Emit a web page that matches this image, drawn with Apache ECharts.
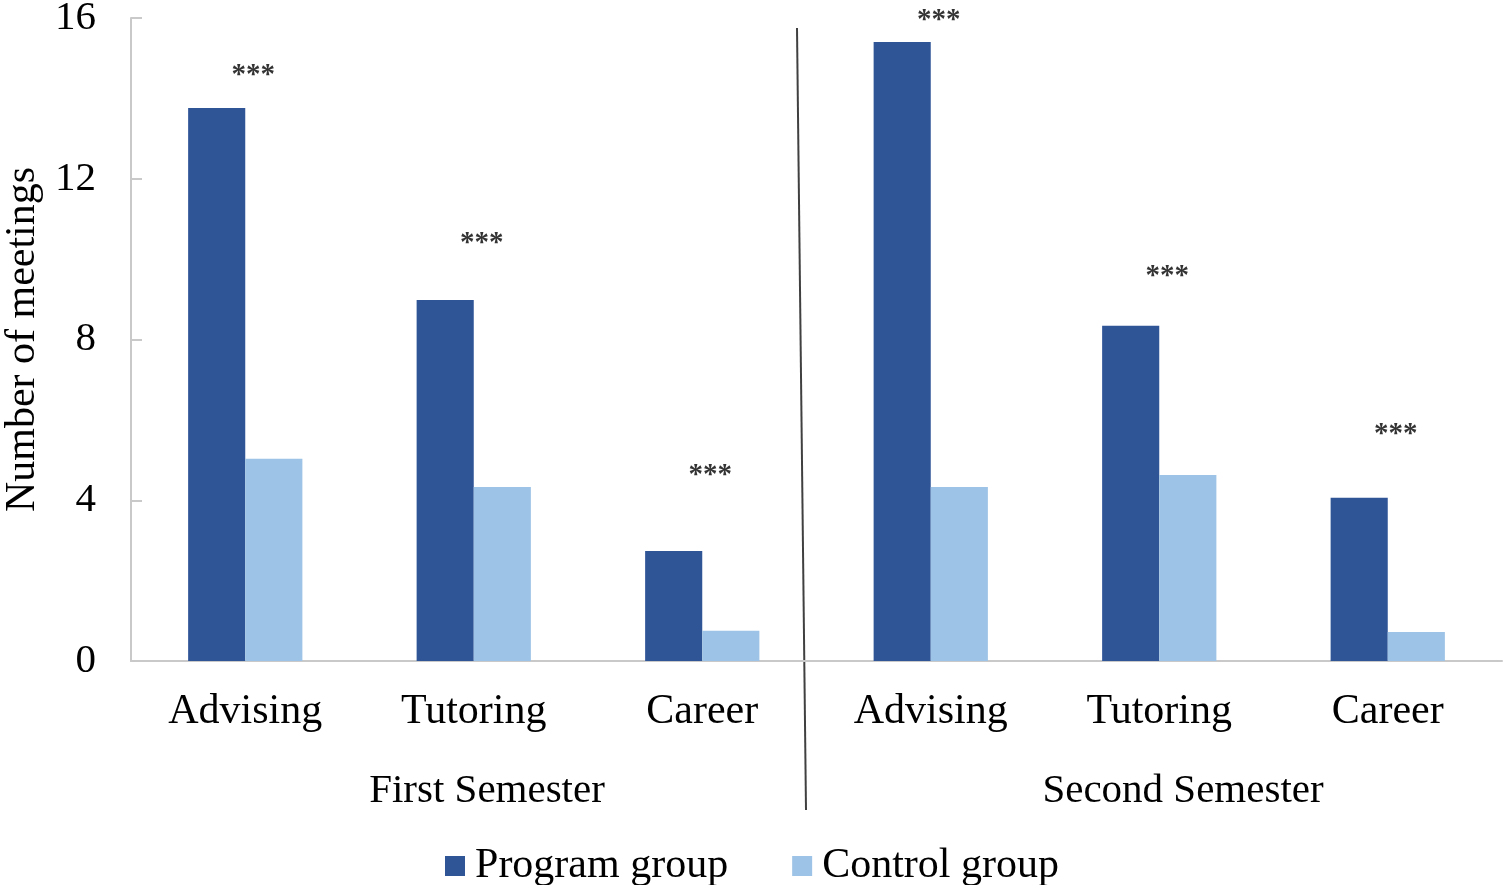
<!DOCTYPE html>
<html>
<head>
<meta charset="utf-8">
<script src="https://cdn.jsdelivr.net/npm/echarts@6/dist/echarts.min.js"></script>
<style>
  html, body { margin: 0; padding: 0; background: #fff; }
  #chart { width: 1504px; height: 885px; }
</style>
</head>
<body>
<div id="chart"></div>
<script>
// categories along x (two semesters, three services each)
const categories = ['Advising', 'Tutoring', 'Career', 'Advising', 'Tutoring', 'Career'];
const semesters = ['First Semester', 'Second Semester'];

// number of meetings
const programGroup = [13.76, 8.98, 2.74, 15.40, 8.34, 4.06];
const controlGroup = [5.03, 4.33, 0.75, 4.33, 4.63, 0.72];

// height where the significance stars sit
const starLevel = [14.65, 10.47, 4.70, 16.0, 9.63, 5.70];
const starText = '***';

const yTicks = [0, 4, 8, 12, 16];

const font = '"Liberation Serif", "Times New Roman", serif';

const chart = echarts.init(document.getElementById('chart'));

const option = {
  animation: false,
  textStyle: { fontFamily: font, color: '#000' },
  grid: { left: 131, right: 2, top: 18, bottom: 224, outerBoundsMode: 'none' },
  legend: {
    data: ['Program group', 'Control group'],
    left: 'center',
    top: 840,
    icon: 'rect',
    itemWidth: 20,
    itemHeight: 20,
    itemGap: 64,
    textStyle: { fontFamily: font, fontSize: 42, color: '#000', padding: [0, 0, 0, 5] }
  },
  xAxis: {
    type: 'category',
    data: categories,
    axisLine: { lineStyle: { color: '#c9c9c9', width: 2 } },
    axisTick: { show: false },
    axisLabel: { fontFamily: font, fontSize: 42, color: '#000', margin: 30, interval: 0 }
  },
  yAxis: {
    type: 'value',
    min: yTicks[0],
    max: yTicks[yTicks.length - 1],
    interval: 4,
    name: 'Number of meetings',
    nameLocation: 'middle',
    nameGap: 83,
    nameTextStyle: { fontFamily: font, fontSize: 42, color: '#000' },
    axisLine: { show: true, lineStyle: { color: '#c9c9c9', width: 2 } },
    axisTick: { show: true, inside: true, length: 11, lineStyle: { color: '#c9c9c9', width: 2 } },
    axisLabel: { fontFamily: font, fontSize: 41, color: '#000', margin: 35 },
    splitLine: { show: false }
  },
  series: [
    {
      name: 'Program group',
      type: 'bar',
      data: programGroup,
      barWidth: '25%',
      barGap: '0%',
      itemStyle: { color: '#2f5597' }
    },
    {
      name: 'Control group',
      type: 'bar',
      data: controlGroup,
      barWidth: '25%',
      barGap: '0%',
      itemStyle: { color: '#9dc3e6' }
    },
    {
      name: 'stars',
      type: 'scatter',
      data: starLevel,
      symbolSize: 0,
      clip: false,
      silent: true,
      label: {
        show: true,
        position: 'inside',
        offset: [8, 3],
        formatter: starText,
        fontFamily: font,
        fontSize: 29,
        fontWeight: 'bold',
        color: '#000'
      }
    }
  ],
  graphic: [
    {
      type: 'line',
      shape: { x1: 797, y1: 28, x2: 806, y2: 810 },
      style: { stroke: '#404040', lineWidth: 2 }
    },
    {
      type: 'text',
      x: 487, y: 791,
      style: {
        text: semesters[0], font: '41px ' + font, fill: '#000',
        textAlign: 'center', textVerticalAlign: 'middle'
      }
    },
    {
      type: 'text',
      x: 1183, y: 791,
      style: {
        text: semesters[1], font: '41px ' + font, fill: '#000',
        textAlign: 'center', textVerticalAlign: 'middle'
      }
    }
  ]
};

chart.setOption(option);
window.addEventListener('resize', () => chart.resize());
</script>
</body>
</html>
